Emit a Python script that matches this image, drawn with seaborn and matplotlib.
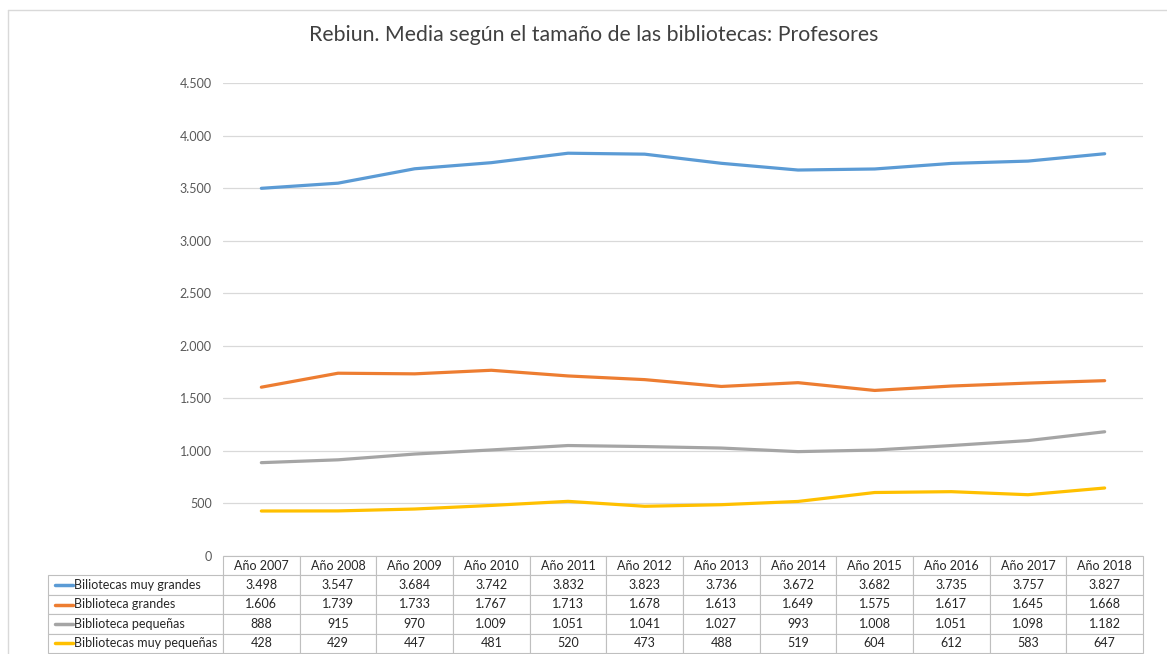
import matplotlib
matplotlib.use("Agg")
import matplotlib.pyplot as plt
import seaborn as sns
import pandas as pd
from matplotlib.lines import Line2D

years = ["Año 2007", "Año 2008", "Año 2009", "Año 2010", "Año 2011", "Año 2012",
         "Año 2013", "Año 2014", "Año 2015", "Año 2016", "Año 2017", "Año 2018"]
series_names = ["Biliotecas muy grandes", "Biblioteca grandes",
                "Biblioteca pequeñas", "Bibliotecas muy pequeñas"]
muy_grandes = [3498, 3547, 3684, 3742, 3832, 3823, 3736, 3672, 3682, 3735, 3757, 3827]
grandes = [1606, 1739, 1733, 1767, 1713, 1678, 1613, 1649, 1575, 1617, 1645, 1668]
pequenas = [888, 915, 970, 1009, 1051, 1041, 1027, 993, 1008, 1051, 1098, 1182]
muy_pequenas = [428, 429, 447, 481, 520, 473, 488, 519, 604, 612, 583, 647]
yticks = [0, 500, 1000, 1500, 2000, 2500, 3000, 3500, 4000, 4500]
colors = ["#5B9BD5", "#ED7D31", "#A5A5A5", "#FFC000"]

values = [muy_grandes, grandes, pequenas, muy_pequenas]

def fmt(v):
    return f"{v:,}".replace(",", ".")

rows = []
for name, vals in zip(series_names, values):
    for i, v in enumerate(vals):
        rows.append({"x": i, "value": v, "serie": name})
df = pd.DataFrame(rows)

sns.set_style("white")
plt.rcParams["font.family"] = ["Lato", "DejaVu Sans"]

fig = plt.figure(figsize=(11.67, 6.54), dpi=100)
W, H = 1167, 654
ax = fig.add_axes([223 / W, 1 - 556 / H, 920 / W, 473 / H])

sns.lineplot(data=df, x="x", y="value", hue="serie", hue_order=series_names,
             palette=colors, linewidth=2.3, legend=False, ax=ax)

ax.set_xlim(-0.5, len(years) - 0.5)
ax.set_ylim(0, 4500)
ax.set_yticks(yticks)
ax.set_yticklabels([fmt(t) for t in yticks], color="#595959", fontsize=9)
ax.set_xticks([])
ax.set_xlabel("")
ax.set_ylabel("")
ax.tick_params(axis="y", length=0, pad=8)
ax.grid(axis="y", color="#D9D9D9", linewidth=0.9)
ax.set_axisbelow(True)
for s in ax.spines.values():
    s.set_visible(False)

# data table under the plot
cell_text = [[""] + years]
for name, vals in zip(series_names, values):
    cell_text.append([name] + [fmt(v) for v in vals])

col_w = [175] + [920 / 12] * 12
tbl_h = 97 / 473
tbl = ax.table(cellText=cell_text, colWidths=col_w, cellLoc="center",
               bbox=[-175 / 920, -tbl_h, 1 + 175 / 920, tbl_h])
tbl.auto_set_font_size(False)
tbl.set_fontsize(9)
for (r, c), cell in tbl.get_celld().items():
    cell.set_edgecolor("#BFBFBF")
    cell.set_linewidth(0.8)
    cell.get_text().set_color("#262626")
    if r == 0 and c == 0:
        cell.visible_edges = "open"
    if c == 0 and r > 0:
        cell._loc = "left"
        cell.PAD = 0.15
        cell.get_text().set_horizontalalignment("left")

# legend keys inside the label cells
row_h = tbl_h / 5
for i, c in enumerate(colors):
    y = -row_h * (i + 1.5)
    ax.add_line(Line2D([-168 / 920, -150 / 920], [y, y], transform=ax.transAxes,
                       color=c, linewidth=2.5, clip_on=False))

fig.text(594 / W, 1 - 35 / H, "Rebiun. Media según el tamaño de las bibliotecas: Profesores",
         ha="center", va="center", fontsize=15.3, color="#404040")

# chart frame
fig.add_artist(Line2D([8 / W, 8 / W], [0, 1 - 10 / H], color="#D9D9D9", linewidth=1))
fig.add_artist(Line2D([8 / W, 1], [1 - 10 / H, 1 - 10 / H], color="#D9D9D9", linewidth=1))

fig.savefig("out.png", dpi=100, facecolor="white")
